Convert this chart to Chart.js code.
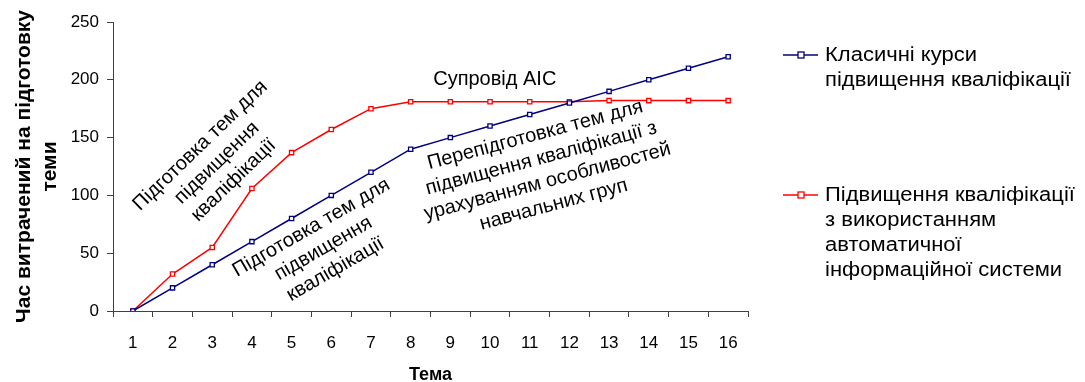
<!DOCTYPE html>
<html>
<head>
<meta charset="utf-8">
<script src="https://cdn.jsdelivr.net/npm/chart.js@4/dist/chart.umd.min.js"></script>
<style>
  body { margin: 0; background: #fff; }
  #chart { display: block; }
</style>
</head>
<body>
<canvas id="chart" width="1085" height="382"></canvas>
<script>
var topics = ['1', '2', '3', '4', '5', '6', '7', '8', '9', '10', '11', '12', '13', '14', '15', '16'];
var classicCourses = [0, 20, 40, 60, 80, 100, 120, 140, 150, 160, 170, 180, 190, 200, 210, 220];
var systemCourses = [0, 32, 55, 106, 137, 157, 175, 181, 181, 181, 181, 181, 182, 182, 182, 182];
var yTicks = [0, 50, 100, 150, 200, 250];

var seriesNames = [
  ['Класичні курси', 'підвищення кваліфікації'],
  ['Підвищення кваліфікації', 'з використанням', 'автоматичної', 'інформаційної системи']
];

// text notes on the plot: anchor in data units (topic index, hours), angle in degrees
var notes = [
  { lines: ['Підготовка тем для', 'підвищення', 'кваліфікації'], at: [2.12, 128], angle: -44 },
  { lines: ['Підготовка тем для', 'підвищення', 'кваліфікації'], at: [4.8, 54], angle: -30 },
  { lines: ['Перепідготовка тем для', 'підвищення кваліфікації з', 'урахуванням особливостей', 'навчальних груп'], at: [10.37, 122], angle: -15 },
  { lines: ['Супровід АІС'], at: [9.12, 200], angle: 0 }
];

var FONT = '"Liberation Sans", Arial, sans-serif';
var BLUE = '#000080';
var RED = '#ff0000';

function init() {
  var ctx = document.getElementById('chart');
  new Chart(ctx, {
    type: 'line',
    data: {
      labels: topics,
      datasets: [{
        label: seriesNames[0].join(' '),
        data: classicCourses,
        borderColor: BLUE,
        borderWidth: 1.5,
        pointStyle: 'rect',
        pointRadius: 3,
        pointBorderWidth: 1.3,
        pointBackgroundColor: '#fff',
        pointBorderColor: BLUE,
        tension: 0
      }, {
        label: seriesNames[1].join(' '),
        data: systemCourses,
        borderColor: RED,
        borderWidth: 1.5,
        pointStyle: 'rect',
        pointRadius: 3,
        pointBorderWidth: 1.3,
        pointBackgroundColor: '#fff',
        pointBorderColor: RED,
        tension: 0
      }]
    },
    options: {
      responsive: false,
      animation: false,
      layout: { padding: { top: 22, right: 337, left: 0, bottom: 0 } },
      plugins: {
        legend: { display: false },
        tooltip: { enabled: false }
      },
      scales: {
        x: {
          offset: true,
          grid: { drawOnChartArea: false, offset: true, tickLength: 6, color: '#404040' },
          border: { color: '#404040', width: 1 },
          ticks: { color: '#000', font: { family: FONT, size: 17 }, padding: 16, maxRotation: 0 },
          title: { display: true, text: 'Тема', color: '#000', font: { family: FONT, size: 18, weight: 'bold' }, padding: { top: 0, bottom: -4 } },
          afterFit: function(scale) { scale.height = 71; }
        },
        y: {
          min: 0,
          max: 250,
          afterBuildTicks: function(scale) {
            scale.ticks = yTicks.map(function(v) { return { value: v }; });
          },
          grid: { drawOnChartArea: false, tickLength: 6, color: '#404040' },
          border: { color: '#404040', width: 1 },
          ticks: { color: '#000', font: { family: FONT, size: 17 }, padding: 8 },
          title: { display: true, text: ['Час витрачений на підготовку', 'теми'], color: '#000', font: { family: FONT, size: 21, weight: 'bold' }, padding: { top: 12, bottom: 0 } },
          afterFit: function(scale) { scale.width = 113; }
        }
      }
    },
    plugins: [notesPlugin, sideLegend]
  });
}

var notesPlugin = {
  id: 'notes',
  afterDatasetsDraw: function(chart) {
    var c = chart.ctx;
    var xs = chart.scales.x;
    var ys = chart.scales.y;
    c.save();
    c.fillStyle = '#000';
    c.font = '20px ' + FONT;
    c.textAlign = 'center';
    c.textBaseline = 'middle';
    notes.forEach(function(n) {
      var px = xs.getPixelForValue(n.at[0]);
      var py = ys.getPixelForValue(n.at[1]);
      var lh = 24;
      c.save();
      c.translate(px, py);
      c.rotate(n.angle * Math.PI / 180);
      var start = -(n.lines.length - 1) * lh / 2;
      n.lines.forEach(function(t, i) {
        c.fillText(t, 0, start + i * lh);
      });
      c.restore();
    });
    c.restore();
  }
};

var sideLegend = {
  id: 'sideLegend',
  afterDraw: function(chart) {
    var c = chart.ctx;
    var x0 = 783;
    var tops = [55, 195];
    c.save();
    c.textBaseline = 'middle';
    c.textAlign = 'left';
    chart.data.datasets.forEach(function(ds, i) {
      var y = tops[i];
      c.strokeStyle = ds.borderColor;
      c.lineWidth = 1.5;
      c.beginPath();
      c.moveTo(x0, y);
      c.lineTo(x0 + 35, y);
      c.stroke();
      c.fillStyle = '#fff';
      c.fillRect(x0 + 15, y - 3, 6, 6);
      c.lineWidth = 1.3;
      c.strokeRect(x0 + 15, y - 3, 6, 6);
      c.fillStyle = '#000';
      seriesNames[i].forEach(function(t, j) {
        // legend text in the reference is a little wider than plain Arial
        c.save();
        c.translate(x0 + 42, y + j * 25);
        c.scale(1.1, 1);
        c.font = '20px ' + FONT;
        c.fillText(t, 0, 0);
        c.restore();
      });
    });
    c.restore();
  }
};

init();
</script>
</body>
</html>
